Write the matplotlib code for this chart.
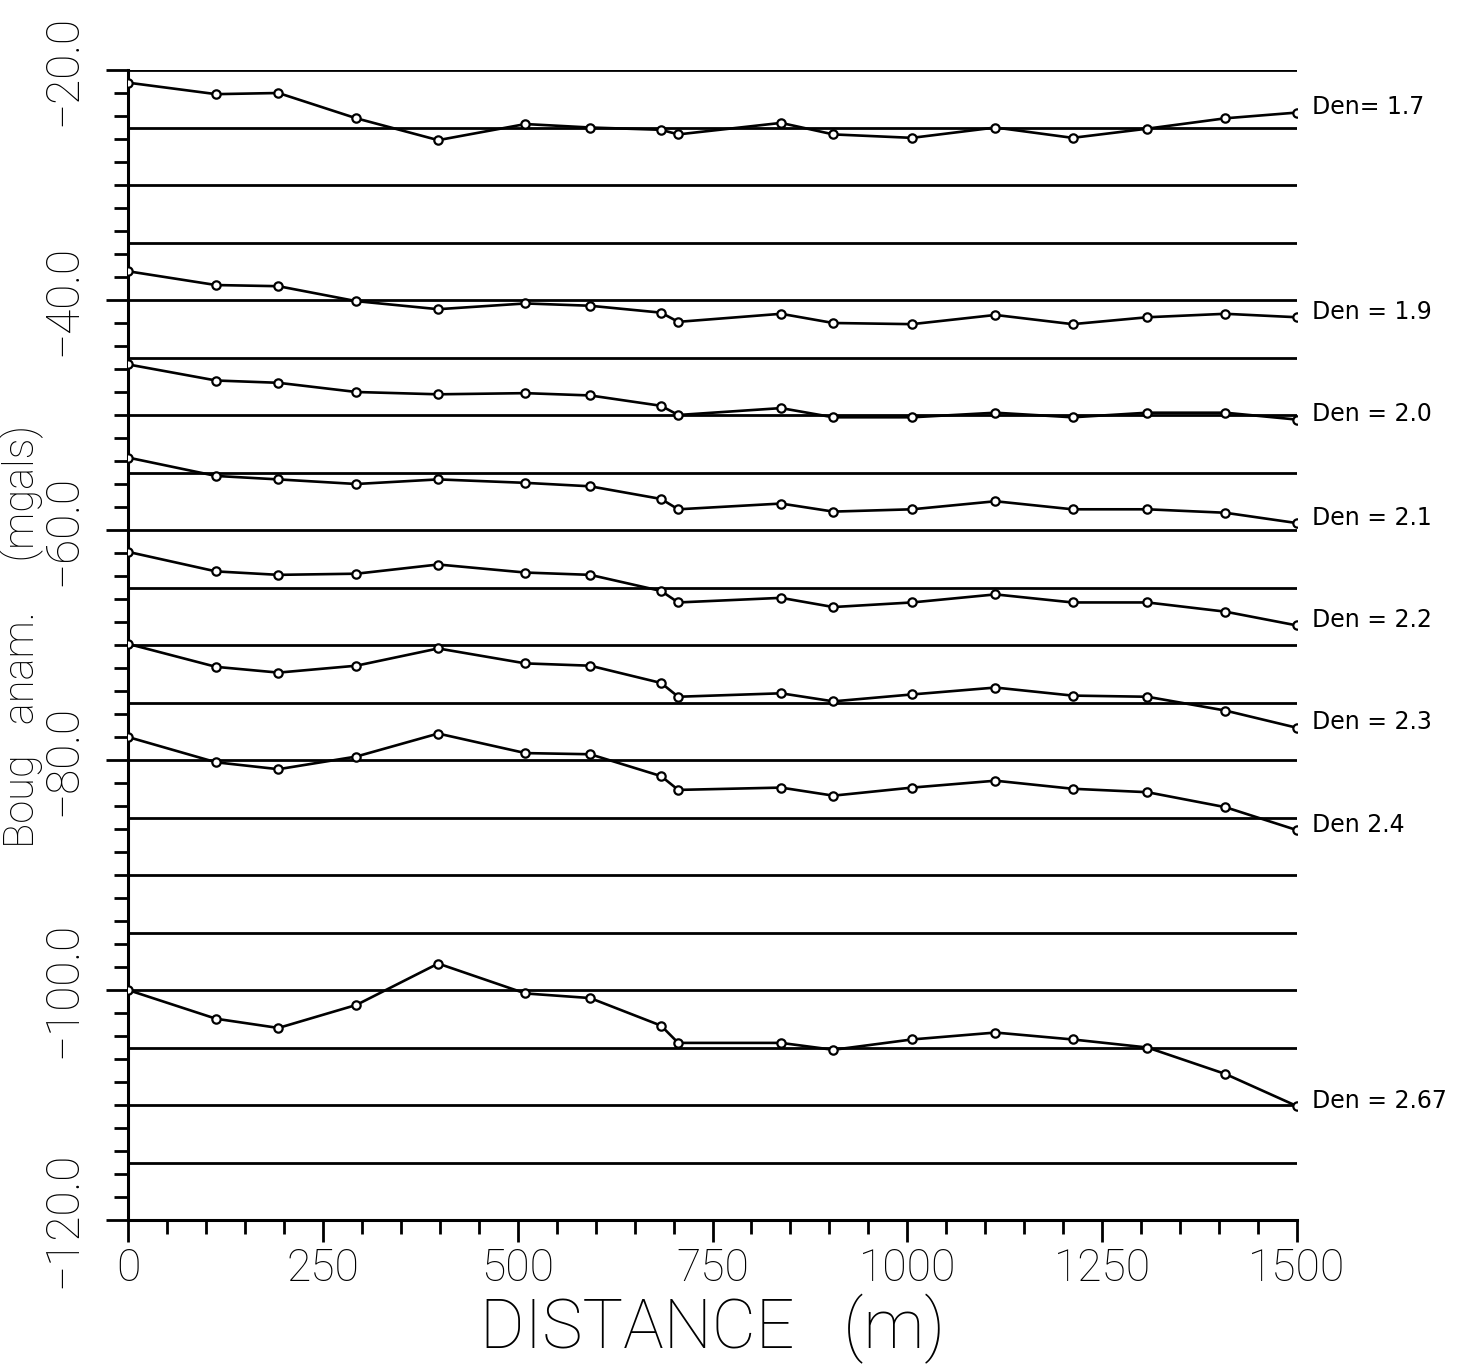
import numpy as np
import matplotlib
matplotlib.use("Agg")
import matplotlib.pyplot as plt
from matplotlib.ticker import MultipleLocator, FixedLocator

# distance along the profile (m)
dist = [0, 113, 193, 293, 398, 510, 593, 684, 706, 838, 905, 1006, 1113, 1212, 1308, 1408, 1500]

# Bouguer anomaly (mgals) for each reduction density
den_17 = [-21.1, -22.1, -22.0, -24.2, -26.1, -24.7, -25.0, -25.2, -25.6, -24.6, -25.6, -25.9, -25.0, -25.9, -25.1, -24.2, -23.7]
den_19 = [-37.5, -38.7, -38.8, -40.1, -40.8, -40.3, -40.5, -41.1, -41.9, -41.2, -42.0, -42.1, -41.3, -42.1, -41.5, -41.2, -41.5]
den_20 = [-45.6, -47.0, -47.2, -48.0, -48.2, -48.1, -48.3, -49.2, -50.0, -49.4, -50.2, -50.2, -49.8, -50.2, -49.8, -49.8, -50.4]
den_21 = [-53.7, -55.3, -55.6, -56.0, -55.6, -55.9, -56.2, -57.3, -58.2, -57.7, -58.4, -58.2, -57.5, -58.2, -58.2, -58.5, -59.4]
den_22 = [-61.9, -63.6, -63.9, -63.8, -63.0, -63.7, -63.9, -65.3, -66.3, -65.9, -66.7, -66.3, -65.6, -66.3, -66.3, -67.1, -68.3]
den_23 = [-69.9, -71.9, -72.4, -71.8, -70.3, -71.6, -71.8, -73.3, -74.5, -74.2, -74.9, -74.3, -73.7, -74.4, -74.5, -75.7, -77.2]
den_24 = [-78.0, -80.2, -80.8, -79.7, -77.7, -79.4, -79.5, -81.4, -82.6, -82.4, -83.1, -82.4, -81.8, -82.5, -82.8, -84.1, -86.1]
den_267 = [-100.0, -102.5, -103.3, -101.3, -97.7, -100.3, -100.7, -103.1, -104.6, -104.6, -105.2, -104.3, -103.7, -104.3, -105.0, -107.3, -110.1]

series = [den_17, den_19, den_20, den_21, den_22, den_23, den_24, den_267]
labels = ["Den= 1.7", "Den = 1.9", "Den = 2.0", "Den = 2.1", "Den = 2.2",
          "Den = 2.3", "Den 2.4", "Den = 2.67"]

yticks = [-20, -40, -60, -80, -100, -120]
ytick_labels = ["\u221220.0", "\u221240.0", "\u221260.0", "\u221280.0", "\u2212100.0", "\u2212120.0"]
xticks = [0, 250, 500, 750, 1000, 1250, 1500]

light = dict(family=["Roboto", "DejaVu Sans"], fontweight="light")

fig = plt.figure(figsize=(14.57, 13.64), dpi=100)
ax = fig.add_axes([128 / 1457, 1 - 1220 / 1364, (1297 - 128) / 1457, (1220 - 70) / 1364])

# horizontal reference lines every 5 mgal
for yv in np.arange(-115, -15, 5):
    ax.axhline(yv, color="black", lw=2.0, zorder=1)

for vals, lab in zip(series, labels):
    ax.plot(dist, vals, color="black", lw=1.9, marker="o", markersize=6,
            markerfacecolor="white", markeredgecolor="black", markeredgewidth=1.6, zorder=3)
    ax.annotate(lab, xy=(dist[-1], vals[-1]), xytext=(11, 4), textcoords="offset points",
                va="center", ha="left", fontsize=17, family=["DejaVu Sans"],
                annotation_clip=False)

ax.set_xlim(0, 1500)
ax.set_ylim(-120, -20)

ax.spines["top"].set_visible(False)
ax.spines["right"].set_visible(False)
ax.spines["left"].set_linewidth(2.2)
ax.spines["bottom"].set_linewidth(2.2)

ax.xaxis.set_major_locator(FixedLocator(xticks))
ax.xaxis.set_minor_locator(MultipleLocator(50))
ax.yaxis.set_major_locator(FixedLocator(yticks))
ax.yaxis.set_minor_locator(MultipleLocator(2))

ax.tick_params(axis="both", which="major", direction="out", length=16, width=2.0)
ax.tick_params(axis="both", which="minor", direction="out", length=10, width=2.0)
ax.tick_params(axis="x", which="major", pad=4)
ax.tick_params(axis="y", which="major", pad=15)

ax.set_xticks(xticks)
ax.set_xticklabels([str(v) for v in xticks], fontsize=32, **light)
ax.set_yticks(yticks)
ax.set_yticklabels(ytick_labels, fontsize=33, rotation=90, va="center", **light)

ax.set_xlabel("DISTANCE   (m)", fontsize=49, **light)
ax.xaxis.set_label_coords(0.5, -0.064)
ax.set_ylabel("Boug   anam.     (mgals)", fontsize=30, **light)
ax.yaxis.set_label_coords(-0.072, 0.507)

fig.savefig("out.png", dpi=100)
